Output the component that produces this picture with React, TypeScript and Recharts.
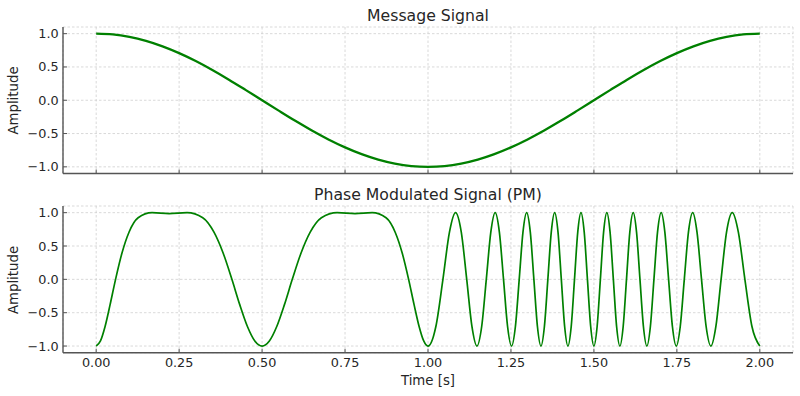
import { CartesianGrid, Line, LineChart, XAxis, YAxis } from "recharts";

// Two stacked panels sharing the time axis: the message cos wave on top,
// the phase modulated carrier below.

const timeTicks = [0, 0.25, 0.5, 0.75, 1, 1.25, 1.5, 1.75, 2];
const ampTicks = [-1, -0.5, 0, 0.5, 1];

const messageTime = [
  0, 0.05, 0.1, 0.15, 0.2, 0.25, 0.3, 0.35, 0.4, 0.45, 0.5, 0.55, 0.6, 0.65,
  0.7, 0.75, 0.8, 0.85, 0.9, 0.95, 1, 1.05, 1.1, 1.15, 1.2, 1.25, 1.3, 1.35,
  1.4, 1.45, 1.5, 1.55, 1.6, 1.65, 1.7, 1.75, 1.8, 1.85, 1.9, 1.95, 2,
];
const messageValues = [
  1, 0.988, 0.951, 0.891, 0.809, 0.707, 0.588, 0.454, 0.309, 0.156, 0, -0.156,
  -0.309, -0.454, -0.588, -0.707, -0.809, -0.891, -0.951, -0.988, -1, -0.988,
  -0.951, -0.891, -0.809, -0.707, -0.588, -0.454, -0.309, -0.156, 0, 0.156,
  0.309, 0.454, 0.588, 0.707, 0.809, 0.891, 0.951, 0.988, 1,
];

// PM signal: extrema, zero crossings and in-between levels.
const pmTime = [
  // 0 – 0.5
  0, 0.0129, 0.0268, 0.0418, 0.0584, 0.0771, 0.0989, 0.1264, 0.1684, 0.2197,
  0.2738, 0.3212, 0.355, 0.3834, 0.409, 0.4329, 0.4558, 0.4781,
  // 0.5 – 1.0
  0.5, 0.5219, 0.5442, 0.5671, 0.591, 0.6166, 0.645, 0.6788, 0.7262, 0.7803,
  0.8316, 0.8736, 0.9011, 0.9229, 0.9416, 0.9582, 0.9732, 0.9871,
  // 1.0 – 1.5
  1.0, 1.0237, 1.045, 1.0647, 1.083, 1.1003, 1.1167, 1.1324,
  1.1474, 1.1618, 1.1757, 1.1893, 1.2024, 1.2151, 1.2276, 1.2398,
  1.2518, 1.2634, 1.2749, 1.2862, 1.2973, 1.3083, 1.3191, 1.3298,
  1.3404, 1.3508, 1.3612, 1.3715, 1.3817, 1.3918, 1.4018, 1.4118,
  1.4217, 1.4316, 1.4415, 1.4513, 1.461, 1.4708, 1.4805, 1.4903,
  // 1.5 – 2.0
  1.5, 1.5097, 1.5195, 1.5292, 1.539, 1.5487, 1.5586, 1.5684,
  1.5783, 1.5882, 1.5982, 1.6082, 1.6184, 1.6285, 1.6388, 1.6492,
  1.6596, 1.6702, 1.6809, 1.6917, 1.7027, 1.7138, 1.7251, 1.7366,
  1.7483, 1.7602, 1.7724, 1.7849, 1.7977, 1.8107, 1.8243, 1.8382,
  1.8526, 1.8676, 1.8833, 1.8997, 1.917, 1.9353, 1.955, 1.9763,
  2.0,
];
const pmValues = [
  // 0 – 0.5
  -1, -0.924, -0.707, -0.383, 0, 0.383, 0.707, 0.924, 1, 0.986,
  1, 0.924, 0.707, 0.383, 0, -0.383, -0.707, -0.924,
  // 0.5 – 1.0
  -1, -0.924, -0.707, -0.383, 0, 0.383, 0.707, 0.924, 1, 0.986,
  1, 0.924, 0.707, 0.383, 0, -0.383, -0.707, -0.924,
  // 1.0 – 1.5
  -1, -0.707, 0, 0.707, 1, 0.707, 0, -0.707,
  -1, -0.707, 0, 0.707, 1, 0.707, 0, -0.707,
  -1, -0.707, 0, 0.707, 1, 0.707, 0, -0.707,
  -1, -0.707, 0, 0.707, 1, 0.707, 0, -0.707,
  -1, -0.707, 0, 0.707, 1, 0.707, 0, -0.707,
  // 1.5 – 2.0
  -1, -0.707, 0, 0.707, 1, 0.707, 0, -0.707,
  -1, -0.707, 0, 0.707, 1, 0.707, 0, -0.707,
  -1, -0.707, 0, 0.707, 1, 0.707, 0, -0.707,
  -1, -0.707, 0, 0.707, 1, 0.707, 0, -0.707,
  -1, -0.707, 0, 0.707, 1, 0.707, 0, -0.707,
  -1,
];

const FONT = "'DejaVu Sans', sans-serif";
const TEXT = "#262626";
const SPINE = "#555555";
const GREEN = "#008000";

const toRows = (ts: number[], vs: number[]) =>
  ts.map((t, i) => ({ t, v: vs[i] }));

const fmtAmp = (v: number) => (v < 0 ? "\u2212" : "") + Math.abs(v).toFixed(1);
const fmtTime = (v: number) => v.toFixed(2);

interface PanelProps {
  rows: { t: number; v: number }[];
  top: number;
  height: number;
  plotTop: number;
  xAxisHeight: number;
  showTimeLabels: boolean;
  lineWidth: number;
}

// One subplot: left + bottom spines, inward ticks, dashed grid.
function Panel({ rows, top, height, plotTop, xAxisHeight, showTimeLabels, lineWidth }: PanelProps) {
  const tickStyle = { fontSize: 12.8, fill: TEXT, fontFamily: FONT };
  return (
    <div style={{ position: "absolute", left: 0, top }}>
      <LineChart
        width={800}
        height={height}
        data={rows}
        margin={{ top: plotTop, right: 7, bottom: 0, left: 0 }}
      >
        <CartesianGrid stroke="#cfcfcf" strokeDasharray="2.5 2" strokeWidth={0.8} />
        <XAxis
          dataKey="t"
          type="number"
          domain={[-0.1, 2.1]}
          ticks={timeTicks}
          interval={0}
          allowDataOverflow
          height={xAxisHeight}
          axisLine={{ stroke: SPINE, strokeWidth: 1.4 }}
          tickLine={{ stroke: SPINE, strokeWidth: 1 }}
          tickSize={-4}
          tickMargin={9.3}
          tick={tickStyle}
          tickFormatter={showTimeLabels ? fmtTime : () => ""}
        />
        <YAxis
          type="number"
          domain={[-1.1, 1.1]}
          ticks={ampTicks}
          interval={0}
          allowDataOverflow
          width={63}
          axisLine={{ stroke: SPINE, strokeWidth: 1.4 }}
          tickLine={{ stroke: SPINE, strokeWidth: 1 }}
          tickSize={-4}
          tickMargin={8.4}
          tick={tickStyle}
          tickFormatter={fmtAmp}
        />
        <Line
          type="monotone"
          dataKey="v"
          stroke={GREEN}
          strokeWidth={lineWidth}
          dot={false}
          activeDot={false}
          isAnimationActive={false}
        />
      </LineChart>
    </div>
  );
}

export default function App() {
  const messageRows = toRows(messageTime, messageValues);
  const pmRows = toRows(pmTime, pmValues);
  const labelStyle = { fontFamily: FONT, fill: TEXT };
  return (
    <div
      style={{
        position: "absolute",
        left: 0,
        top: 0,
        width: 800,
        height: 396,
        background: "#ffffff",
        overflow: "hidden",
      }}
    >
      <Panel
        rows={messageRows}
        top={0}
        height={200}
        plotTop={27}
        xAxisHeight={26.5}
        showTimeLabels={false}
        lineWidth={2.3}
      />
      <Panel
        rows={pmRows}
        top={180}
        height={216}
        plotTop={26}
        xAxisHeight={43.3}
        showTimeLabels
        lineWidth={1.7}
      />
      <svg
        width={800}
        height={396}
        style={{ position: "absolute", left: 0, top: 0, pointerEvents: "none" }}
      >
        <text x={428} y={21} textAnchor="middle" fontSize={15.7} {...labelStyle}>
          Message Signal
        </text>
        <text x={428} y={200} textAnchor="middle" fontSize={15.7} {...labelStyle}>
          Phase Modulated Signal (PM)
        </text>
        <text
          x={18}
          y={100.5}
          transform="rotate(-90 18 100.5)"
          textAnchor="middle"
          fontSize={13.3}
          {...labelStyle}
        >
          Amplitude
        </text>
        <text
          x={18}
          y={280}
          transform="rotate(-90 18 280)"
          textAnchor="middle"
          fontSize={13.3}
          {...labelStyle}
        >
          Amplitude
        </text>
        <text x={428} y={385} textAnchor="middle" fontSize={13.3} {...labelStyle}>
          Time [s]
        </text>
      </svg>
    </div>
  );
}
